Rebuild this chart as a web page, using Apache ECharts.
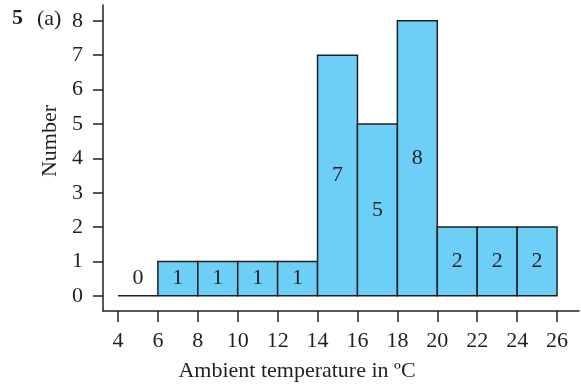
<!DOCTYPE html>
<html><head>
<meta charset="UTF-8">
<title>Ambient temperature histogram</title>
<script src="https://cdn.jsdelivr.net/npm/echarts@6/dist/echarts.min.js"></script>
<style>html,body{margin:0;padding:0;background:#fff;}</style>
</head>
<body>
<div id="chart" style="width:581px;height:386px;"></div>
<script>
// bins (lower / upper edge, degC) and counts
var binStart = [4, 6, 8, 10, 12, 14, 16, 18, 20, 22, 24];
var binEnd   = [6, 8, 10, 12, 14, 16, 18, 20, 22, 24, 26];
var counts   = [0, 1, 1, 1, 1, 7, 5, 8, 2, 2, 2];
var xTicks = [4, 6, 8, 10, 12, 14, 16, 18, 20, 22, 24, 26];
var yTicks = [0, 1, 2, 3, 4, 5, 6, 7, 8];

var ink = '#231f20';
var serif = 'Liberation Serif';
var fs = 22;
var font = fs + 'px "' + serif + '"';

var bars = [];
for (var i = 0; i < counts.length; i++) {
	bars.push([binStart[i], binEnd[i], counts[i]]);
}

function renderBin(params, api) {
	var x0 = api.value(0), x1 = api.value(1), v = api.value(2);
	var p0 = api.coord([x0, 0]);
	var p1 = api.coord([x1, v]);
	var lab = api.coord([(x0 + x1) / 2, Math.max(v, 1) / 2]);
	var kids = [];
	if (v > 0) {
		kids.push({type: 'rect',
			shape: {x: p0[0], y: p1[1], width: p1[0] - p0[0], height: p0[1] - p1[1]},
			style: {fill: '#6dcff6', stroke: ink, lineWidth: 1.5}});
	} else {
		kids.push({type: 'line', shape: {x1: p0[0], y1: p0[1], x2: p1[0], y2: p0[1]},
			style: {stroke: ink, lineWidth: 1.5}});
	}
	kids.push({type: 'text', x: lab[0], y: lab[1],
		style: {text: String(v), fill: ink, font: font, align: 'center', verticalAlign: 'middle'}});
	return {type: 'group', children: kids};
}

var chart = echarts.init(document.getElementById('chart'));
chart.setOption({
	animation: false,
	grid: {left: 103, right: 2, top: 5, bottom: 75},
	xAxis: {
		type: 'value', min: 3.25, max: 27.1,
		axisLine: {show: true, onZero: false, lineStyle: {color: ink, width: 1.5}},
		axisTick: {show: true, customValues: xTicks, length: 11, lineStyle: {color: ink, width: 1.5}},
		axisLabel: {customValues: xTicks, margin: 19, color: ink, fontFamily: serif, fontSize: fs},
		splitLine: {show: false}
	},
	yAxis: {
		type: 'value', min: -0.44, max: 8.46,
		axisLine: {show: true, onZero: false, lineStyle: {color: ink, width: 1.5}},
		axisTick: {show: true, customValues: yTicks, length: 10, lineStyle: {color: ink, width: 1.5}},
		axisLabel: {customValues: yTicks, margin: 20, color: ink, fontFamily: serif, fontSize: fs},
		splitLine: {show: false}
	},
	graphic: [
		// axis titles
		{type: 'text', x: 297, y: 371,
			style: {text: 'Ambient temperature in ºC', fill: ink, font: font, align: 'center', verticalAlign: 'middle'}},
		{type: 'text', x: 50, y: 141, rotation: Math.PI / 2,
			style: {text: 'Number', fill: ink, font: font, align: 'center', verticalAlign: 'middle'}},
		// question number
		{type: 'text', x: 12, y: 18,
			style: {text: '5', fill: ink, font: 'bold ' + font, verticalAlign: 'middle'}},
		{type: 'text', x: 37, y: 19,
			style: {text: '(a)', fill: ink, font: font, verticalAlign: 'middle'}}
	],
	series: [{type: 'custom', renderItem: renderBin, data: bars, encode: {x: [0, 1], y: 2}, clip: false}]
});
</script>
</body>
</html>
